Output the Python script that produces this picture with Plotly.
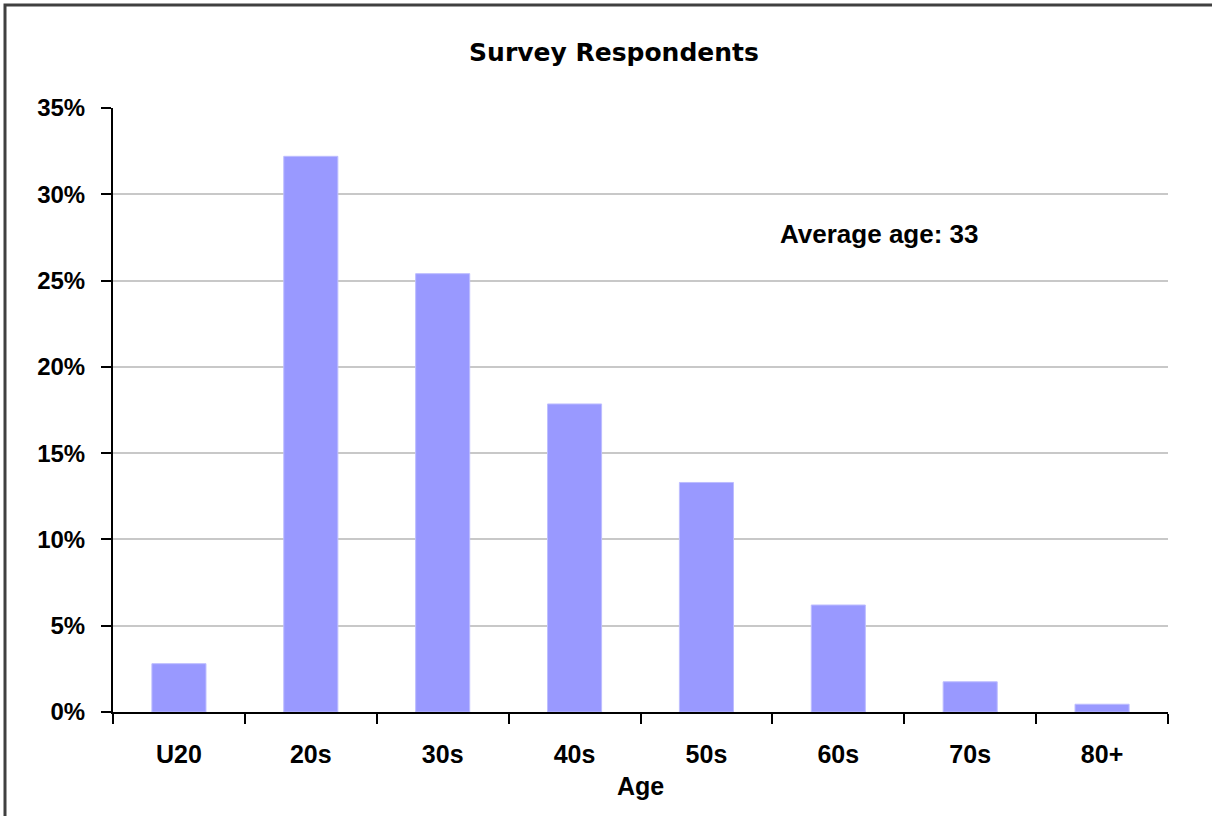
import plotly.graph_objects as go

categories = ["U20", "20s", "30s", "40s", "50s", "60s", "70s", "80+"]
shares = [0.028, 0.322, 0.254, 0.1785, 0.133, 0.062, 0.0175, 0.0045]
y_ticks = [0, 0.05, 0.10, 0.15, 0.20, 0.25, 0.30, 0.35]
y_tick_labels = ["0%", "5%", "10%", "15%", "20%", "25%", "30%", "35%"]

W, H = 1212, 816
L, R, T, B = 113, 44, 108, 104
pw = W - L - R
ph = H - T - B

fig = go.Figure(go.Bar(
    x=categories, y=shares,
    marker=dict(color="#9999FF", line=dict(color="#BDBDFF", width=1)),
    hoverinfo="x+y",
))

FAM = "Liberation Sans, Arial, sans-serif"
ytick_font = dict(family=FAM, size=24, color="black")
xtick_font = dict(family=FAM, size=25, color="black")

fig.update_layout(
    width=W, height=H,
    margin=dict(l=L, r=R, t=T, b=B, autoexpand=False),
    paper_bgcolor="white", plot_bgcolor="white",
    bargap=0.59,
    showlegend=False,
    title=dict(
        text="<b>Survey Respondents</b>",
        font=dict(family="DejaVu Sans, Verdana, sans-serif", size=25, color="black"),
        x=614 / W, xanchor="center", xref="container",
        y=1 - 52 / H, yanchor="middle", yref="container",
    ),
    xaxis=dict(
        showline=True, linecolor="black", linewidth=2,
        ticks="outside", tickson="boundaries", ticklen=10, tickwidth=2, tickcolor="black",
        tickfont=xtick_font, tickprefix="<b>", ticksuffix="</b>",
        showgrid=False, zeroline=False,
        title=dict(text="<b>Age</b>", font=xtick_font, standoff=10),
        ticklabelstandoff=19,
    ),
    yaxis=dict(
        range=[0, 0.35],
        tickvals=y_ticks, ticktext=["<b>%s</b>" % t for t in y_tick_labels],
        showline=True, linecolor="black", linewidth=2,
        ticks="outside", ticklen=10, tickwidth=2, tickcolor="black",
        tickfont=ytick_font,
        showgrid=True, gridcolor="#C8C8C8", gridwidth=2,
        zeroline=False,
        ticklabelstandoff=11,
    ),
    annotations=[dict(
        text="<b>Average age: 33</b>",
        xref="paper", yref="paper",
        x=(879 - L) / pw, y=(712 - 234) / ph,
        xanchor="center", yanchor="middle",
        showarrow=False,
        font=dict(family=FAM, size=26, color="black"),
    )],
    shapes=[dict(
        type="rect", xref="paper", yref="paper",
        x0=(5 - L) / pw, x1=(W + 20 - L) / pw,
        y0=(712 - (H + 20)) / ph, y1=(712 - 5) / ph,
        line=dict(color="#404040", width=3),
        fillcolor="rgba(0,0,0,0)",
        layer="above",
    )],
)

fig.write_html("out.html", config={"displayModeBar": False},
               post_script="document.body.style.margin='0';")
